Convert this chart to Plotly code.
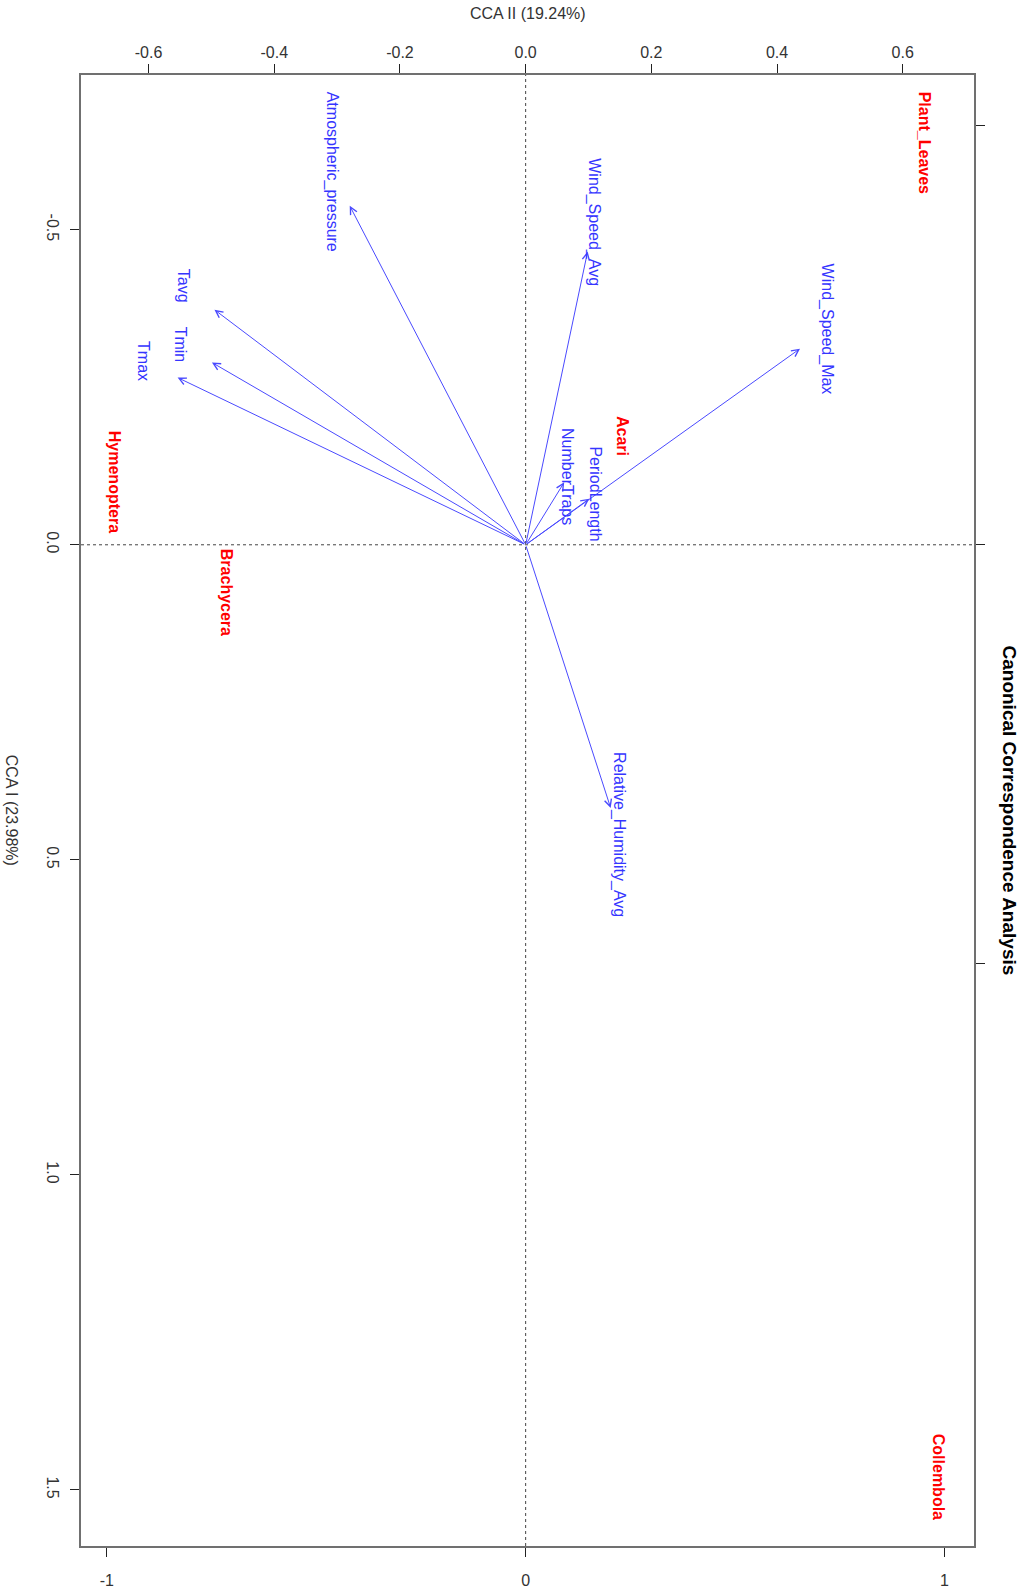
import plotly.graph_objects as go

# ---------------- data ----------------
species = ["Hymenoptera", "Brachycera", "Acari", "Plant_Leaves", "Collembola"]
species_cca1 = [-0.100, 0.076, -0.173, -0.638, 1.479]   # vertical (left axis)
species_cca2 = [-0.655, -0.477, 0.153, 0.634, 0.656]    # horizontal (top axis)

env_vars = ["Atmospheric_pressure", "Tavg", "Tmin", "Tmax", "Wind_Speed_Avg",
            "Wind_Speed_Max", "NumberTraps", "PeriodLength", "Relative_Humidity_Avg"]
env_cca1 = [-0.809, -0.561, -0.435, -0.399, -0.700, -0.468, -0.149, -0.110, 0.628]
env_cca2 = [-0.420, -0.743, -0.749, -0.831, 0.148, 0.655, 0.092, 0.152, 0.203]

top_ticks = [-0.6, -0.4, -0.2, 0.0, 0.2, 0.4, 0.6]
left_ticks = [-0.5, 0.0, 0.5, 1.0, 1.5]
bottom_ticks = [-1, 0, 1]
right_ticks = [-1, 0, 1]

xlab = "CCA II (19.24%)"
ylab = "CCA I (23.98%)"
main_title = "Canonical Correspondence Analysis"

LABEL_MULT = 1.1
FONT = "Arial, Liberation Sans, sans-serif"
BLUE_TXT = "#3535ff"
BLUE_LINE = "#4a4aff"
RED = "#ff0000"
AXCOL = "#333333"

fig = go.Figure()

# invisible anchor traces so every axis is used
fig.add_trace(go.Scatter(x=species_cca2, y=species_cca1, mode="markers",
                         marker=dict(opacity=0), xaxis="x", yaxis="y",
                         hoverinfo="skip", showlegend=False))
fig.add_trace(go.Scatter(x=env_cca2, y=env_cca1, mode="markers",
                         marker=dict(opacity=0), xaxis="x2", yaxis="y2",
                         hoverinfo="skip", showlegend=False))

annotations = []
# arrows (secondary scale)
for name, c1, c2 in zip(env_vars, env_cca1, env_cca2):
    annotations.append(dict(
        x=c2, y=c1, xref="x2", yref="y2", ax=0, ay=0, axref="x2", ayref="y2",
        text="", showarrow=True, arrowhead=5, arrowsize=1.4, arrowwidth=1,
        arrowcolor=BLUE_LINE, standoff=0, startstandoff=0))
    annotations.append(dict(
        x=c2 * LABEL_MULT, y=c1 * LABEL_MULT, xref="x2", yref="y2",
        text=name, showarrow=False, textangle=90,
        xanchor="center", yanchor="middle",
        font=dict(family=FONT, size=16, color=BLUE_TXT)))

# species labels (primary scale)
for name, c1, c2 in zip(species, species_cca1, species_cca2):
    annotations.append(dict(
        x=c2, y=c1, xref="x", yref="y", text="<b>%s</b>" % name,
        showarrow=False, textangle=90, xanchor="center", yanchor="middle",
        font=dict(family=FONT, size=16, color=RED)))

# axis titles / main title
annotations.append(dict(x=0.5, y=1.0415, xref="paper", yref="paper", text=xlab,
                        showarrow=False, xanchor="center", yanchor="middle",
                        font=dict(family=FONT, size=16, color=AXCOL)))
annotations.append(dict(x=-0.0775, y=0.5, xref="paper", yref="paper", text=ylab,
                        showarrow=False, textangle=90, xanchor="center", yanchor="middle",
                        font=dict(family=FONT, size=16, color=AXCOL)))
annotations.append(dict(x=1.0403, y=0.5, xref="paper", yref="paper",
                        text="<b>%s</b>" % main_title, showarrow=False, textangle=90,
                        xanchor="center", yanchor="middle",
                        font=dict(family=FONT, size=19, color="#000000")))

shapes = [
    dict(type="line", xref="x", yref="paper", x0=0, x1=0, y0=0, y1=1,
         line=dict(color="#444444", width=1, dash="dot")),
    dict(type="line", xref="paper", yref="y", x0=0, x1=1, y0=0, y1=0,
         line=dict(color="#444444", width=1, dash="dot")),
]

axis_common = dict(showgrid=False, zeroline=False, showline=True, linecolor="#707070",
                   linewidth=1.5, ticks="outside", ticklen=9, tickwidth=1,
                   tickcolor="#222222", automargin=False,
                   tickfont=dict(family=FONT, size=16, color=AXCOL))

fig.update_layout(
    width=1022, height=1592,
    margin=dict(l=81, r=48, t=75, b=46),
    paper_bgcolor="white", plot_bgcolor="white",
    showlegend=False,
    xaxis=dict(range=[-0.7075, 0.7134], side="top", anchor="y",
               tickvals=top_ticks, ticktext=["%.1f" % v for v in top_ticks],
               **axis_common),
    yaxis=dict(range=[1.589, -0.7456], side="left", anchor="x",
               tickvals=left_ticks, ticktext=["%.1f" % v for v in left_ticks],
               tickangle=90, ticklabelstandoff=4, **axis_common),
    xaxis2=dict(range=[-1.0616, 1.0704], side="bottom", overlaying="x", anchor="y2",
                tickvals=bottom_ticks, ticktext=[str(v) for v in bottom_ticks],
                ticklabelstandoff=10, **axis_common),
    yaxis2=dict(range=[2.389, -1.121], side="right", overlaying="y", anchor="x2",
                tickvals=right_ticks, showticklabels=False, **axis_common),
    annotations=annotations,
    shapes=shapes,
)

fig.write_html("out.html", config={"displayModeBar": False},
               post_script="document.body.style.margin='0';document.body.style.overflow='hidden';")
